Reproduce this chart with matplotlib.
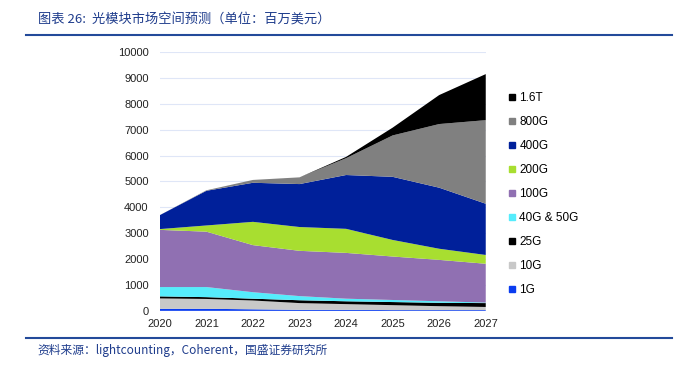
import matplotlib.pyplot as plt
from matplotlib.lines import Line2D

plt.rcParams['font.family'] = ['Liberation Sans', 'Noto Sans CJK SC', 'DejaVu Sans']

years = [2020, 2021, 2022, 2023, 2024, 2025, 2026, 2027]
labels = ["1G", "10G", "25G", "40G & 50G", "100G", "200G", "400G", "800G", "1.6T"]
colors = ["#0a3cf0", "#c8c8c8", "#000000", "#55ecfc", "#9070b2", "#a8de30", "#00209a", "#808080", "#000000"]

# values per series (million USD), bottom to top
v_1g = [80, 80, 60, 40, 40, 30, 30, 30]
v_10g = [400, 380, 340, 260, 220, 190, 150, 120]
v_25g = [80, 70, 70, 110, 110, 120, 130, 150]
v_4050g = [360, 390, 250, 160, 100, 80, 60, 20]
v_100g = [2210, 2140, 1820, 1750, 1770, 1680, 1600, 1500]
v_200g = [30, 240, 900, 920, 930, 640, 430, 340]
v_400g = [540, 1340, 1510, 1660, 2080, 2440, 2360, 1980]
v_800g = [0, 20, 110, 260, 650, 1600, 2460, 3230]
v_16t = [0, 0, 0, 0, 50, 300, 1120, 1780]

series = [v_1g, v_10g, v_25g, v_4050g, v_100g, v_200g, v_400g, v_800g, v_16t]

fig = plt.figure(figsize=(6.89, 3.67), dpi=100)
ax = fig.add_axes([0.232, 0.153, 0.473, 0.705])
ax.stackplot(years, *series, colors=colors, labels=labels, linewidth=0)

ax.set_xlim(2020, 2027)
ax.set_ylim(0, 10000)
ax.set_yticks(range(0, 10001, 1000))
ax.set_xticks(years)
ax.grid(axis='y', color='#dfe6f7', linewidth=0.8)
ax.set_axisbelow(True)
for s in ax.spines.values():
    s.set_visible(False)
ax.tick_params(axis='both', length=0, labelsize=8, colors='#222222')
ax.tick_params(axis='y', pad=8)
ax.tick_params(axis='x', pad=6)

handles = [Line2D([], [], marker='s', linestyle='none', markersize=5,
                  markerfacecolor=c, markeredgecolor=c) for c in colors]
leg = fig.legend(handles[::-1], labels[::-1], loc='upper left', bbox_to_anchor=(0.728, 0.762),
                 frameon=False, fontsize=8.5, handletextpad=0.1, labelspacing=1.02,
                 handlelength=1.0, borderaxespad=0)

title_color = '#1e3c8c'
cjk = ['Noto Sans CJK SC', 'DejaVu Sans']
fig.text(0.055, 0.945, "图表 26:  光模块市场空间预测（单位：百万美元）", fontsize=9.5,
         color=title_color, style='italic', va='center', family=cjk)
fig.add_artist(Line2D([0.038, 0.975], [0.905, 0.905], color='#234a9a', linewidth=1.5))
fig.add_artist(Line2D([0.038, 0.975], [0.079, 0.079], color='#234a9a', linewidth=1.5))
fig.text(0.055, 0.045, "资料来源：lightcounting，Coherent，国盛证券研究所", fontsize=8.5,
         color=title_color, style='italic', va='center', family=cjk)

fig.savefig("out.png", dpi=100)
